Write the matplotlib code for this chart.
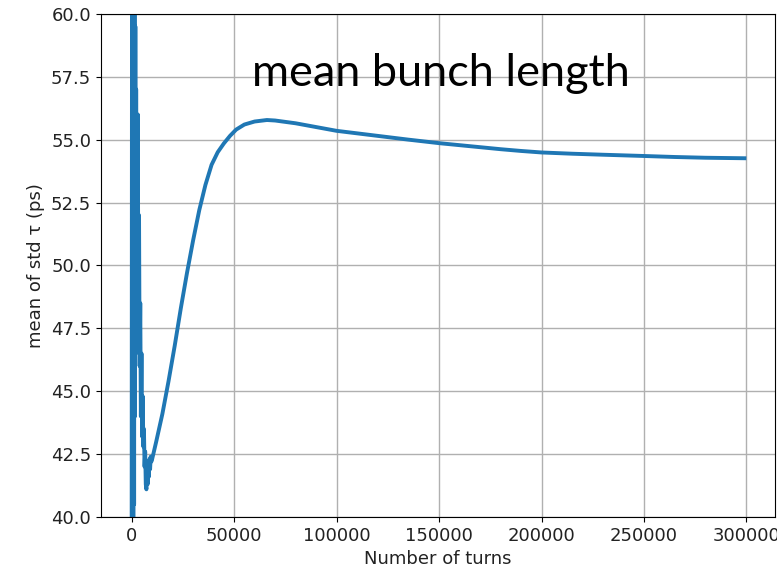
import matplotlib.pyplot as plt
import numpy as np

# values
# early part: the strong oscillation right after injection
early_turns = [0, 200, 400, 600, 800, 1000, 1200, 1400, 1600, 1800, 2000, 2200,
               2400, 2600, 2800, 3000, 3300, 3600, 3900, 4200, 4500, 4800, 5100,
               5400, 5700, 6000, 6300, 6600, 6900, 7200, 7500, 7800, 8100, 8400,
               8700, 9000, 9300, 9600]
early_vals = [38.0, 64.0, 39.0, 63.0, 39.5, 62.0, 40.5, 61.0, 44.0, 59.5, 46.5,
              57.0, 47.0, 55.5, 46.8, 56.0, 47.5, 52.0, 46.0, 48.5, 44.0, 46.5,
              43.2, 44.8, 42.8, 43.5, 42.0, 42.6, 41.3, 41.1, 41.8, 41.3, 42.1,
              41.6, 42.3, 41.9, 42.4, 42.2]

# later part: recovery and slow decay
late_turns = [10000, 12000, 15000, 18000, 21000, 24000, 27000, 30000, 33000,
              36000, 39000, 42000, 45000, 48000, 51000, 55000, 60000, 66000,
              70000, 80000, 90000, 100000, 110000, 120000, 135000, 150000,
              165000, 180000, 190000, 200000, 215000, 230000, 250000, 265000,
              280000, 299000]
late_vals = [42.3, 43.0, 44.1, 45.4, 46.8, 48.3, 49.7, 51.0, 52.2, 53.2, 54.0,
             54.5, 54.85, 55.15, 55.4, 55.6, 55.72, 55.78, 55.76, 55.65, 55.5,
             55.35, 55.25, 55.15, 55.0, 54.86, 54.74, 54.62, 54.55, 54.49,
             54.44, 54.4, 54.35, 54.31, 54.28, 54.26]

turns = np.array(early_turns + late_turns)
mean_len = np.array(early_vals + late_vals)

fig = plt.figure(figsize=(7.77, 5.77), dpi=100)
ax = fig.add_axes([0.130, 0.104, 0.8675, 0.872])

ax.plot(turns, mean_len, color='tab:blue', linewidth=2.8)
ax.set_ylim(40, 60)
ax.set_yticks(np.arange(40, 60.1, 2.5))
ax.grid(True, color='#b0b0b0', linewidth=1)
ax.set_xlabel('Number of turns', fontsize=13, color='#222222')
ax.set_ylabel('mean of std τ (ps)', fontsize=13, color='#222222')
ax.tick_params(labelsize=13, labelcolor='#222222')

ax.text(0.504, 0.882, 'mean bunch length', transform=ax.transAxes,
        ha='center', va='center', fontsize=32.5, family='Lato')

fig.savefig('out.png', dpi=100)
